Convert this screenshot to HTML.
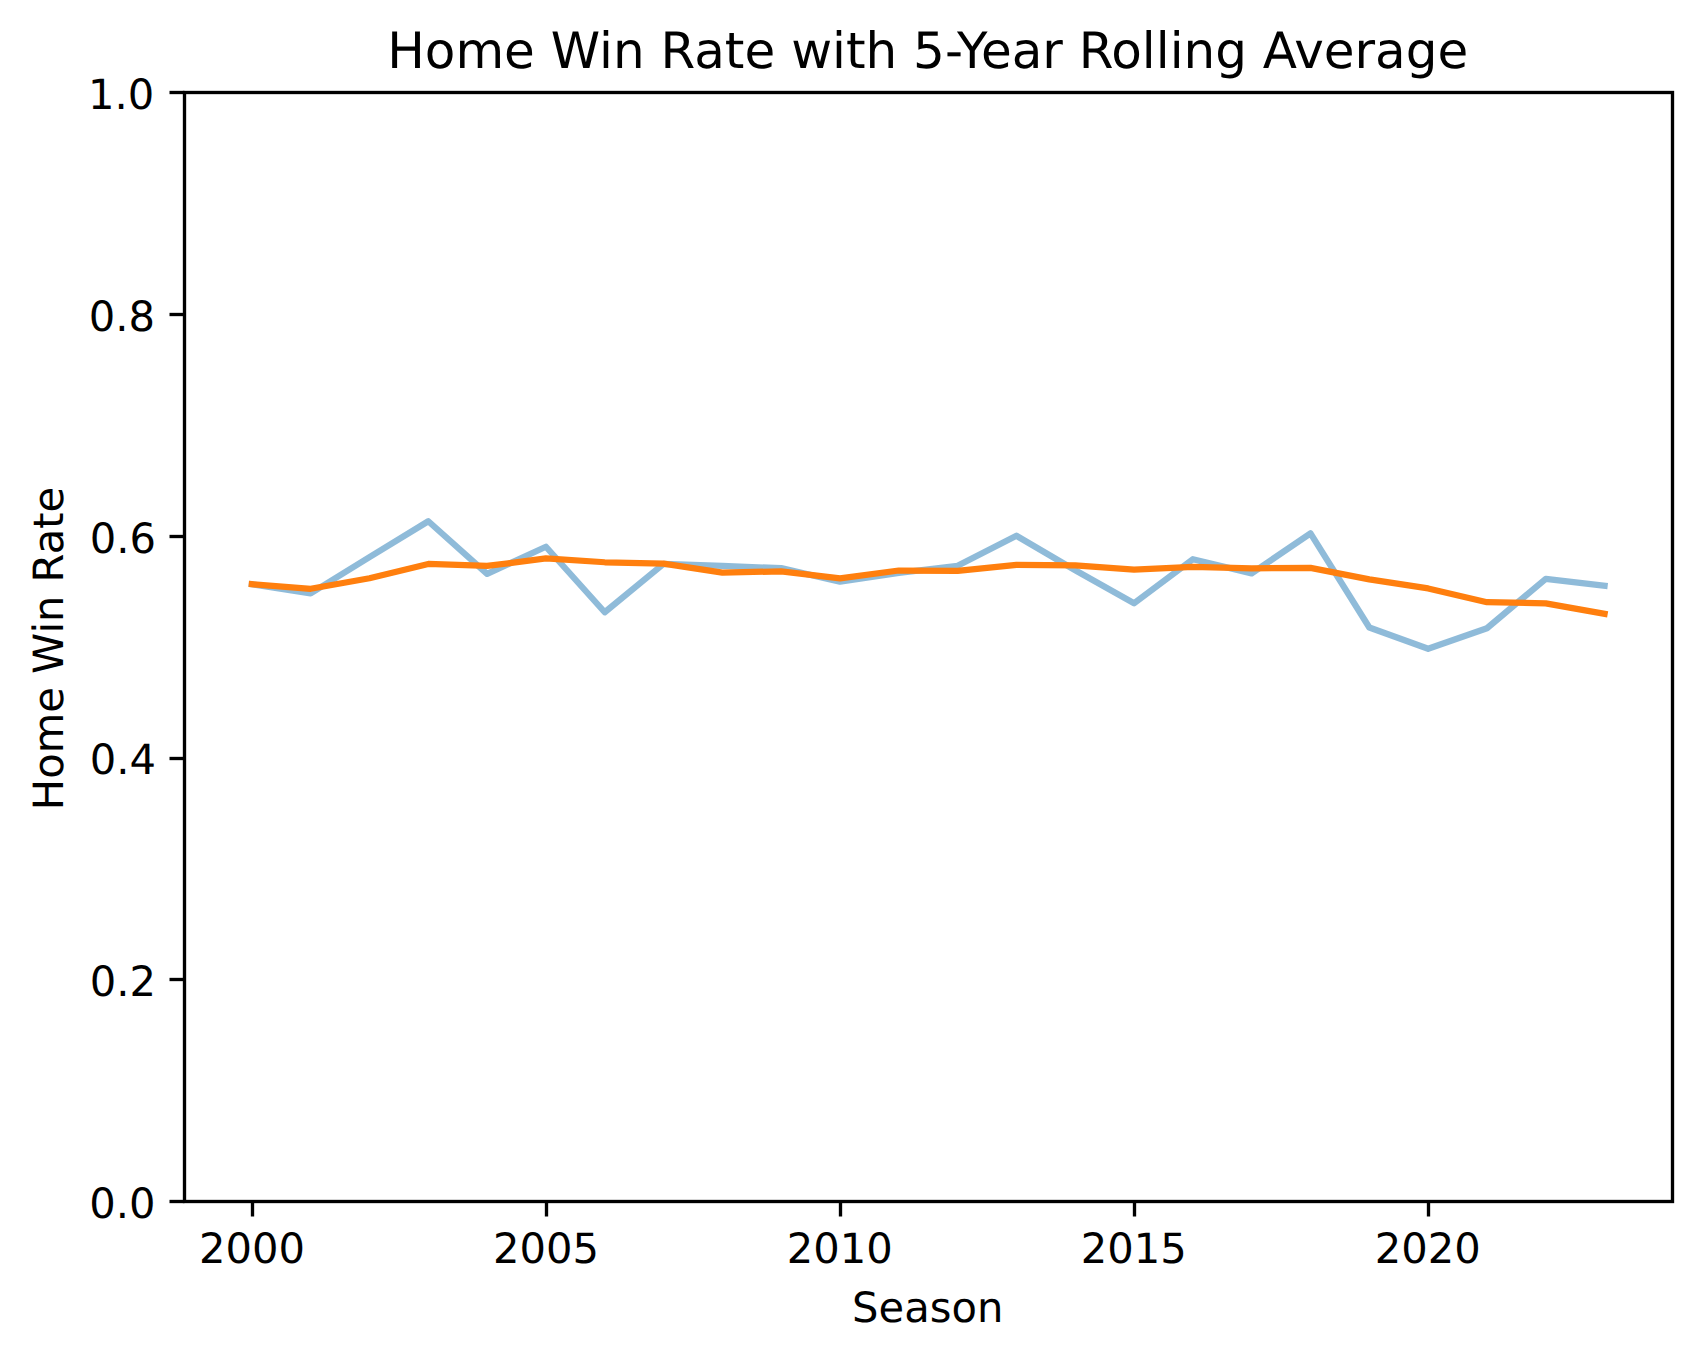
<!DOCTYPE html>
<html lang="en">
<head>
<meta charset="utf-8">
<title>Home Win Rate with 5-Year Rolling Average</title>
<style>
html,body{margin:0;padding:0;background:#ffffff;}
body{width:1702px;height:1361px;overflow:hidden;}
svg{display:block;}
text{text-rendering:geometricPrecision;}
</style>
</head>
<body>
<svg width="1702" height="1361" viewBox="0 0 1702 1361">
<rect x="0" y="0" width="1702" height="1361" fill="#ffffff"/>
<defs><clipPath id="axclip"><rect x="184.208" y="92.367" width="1488.000" height="1108.800"/></clipPath></defs>
<g clip-path="url(#axclip)" fill="none" stroke-linejoin="round" stroke-linecap="square" stroke-width="6.2500">
<path d="M 251.845 584.230 L 310.659 593.323 L 369.473 557.176 L 428.287 521.251 L 487.102 573.808 L 545.916 546.753 L 604.730 612.283 L 663.544 563.939 L 722.359 565.935 L 781.173 568.153 L 839.987 581.680 L 898.801 572.921 L 957.615 565.824 L 1016.430 535.776 L 1075.244 570.259 L 1134.058 603.302 L 1192.872 559.171 L 1251.687 573.364 L 1310.501 533.336 L 1369.315 627.474 L 1428.129 648.763 L 1486.944 628.250 L 1545.758 578.797 L 1604.572 585.672" stroke="#1f77b4" stroke-opacity="0.5"/>
<path d="M 251.845 584.230 L 310.659 588.776 L 369.473 578.243 L 428.287 563.995 L 487.102 565.957 L 545.916 558.462 L 604.730 562.254 L 663.544 563.607 L 722.359 572.544 L 781.173 571.413 L 839.987 578.398 L 898.801 570.526 L 957.615 570.903 L 1016.430 564.871 L 1075.244 565.292 L 1134.058 569.616 L 1192.872 566.867 L 1251.687 568.375 L 1310.501 567.887 L 1369.315 579.329 L 1428.129 588.422 L 1486.944 602.237 L 1545.758 603.324 L 1604.572 613.791" stroke="#ff7f0e"/>
</g>
<g stroke="#000000" stroke-width="3.3333" fill="none" stroke-linecap="butt">
<line x1="252.50" y1="1201.50" x2="252.50" y2="1216.50"/>
<line x1="546.50" y1="1201.50" x2="546.50" y2="1216.50"/>
<line x1="840.50" y1="1201.50" x2="840.50" y2="1216.50"/>
<line x1="1134.50" y1="1201.50" x2="1134.50" y2="1216.50"/>
<line x1="1428.50" y1="1201.50" x2="1428.50" y2="1216.50"/>
<line x1="184.50" y1="1201.50" x2="169.50" y2="1201.50"/>
<line x1="184.50" y1="979.50" x2="169.50" y2="979.50"/>
<line x1="184.50" y1="758.50" x2="169.50" y2="758.50"/>
<line x1="184.50" y1="536.50" x2="169.50" y2="536.50"/>
<line x1="184.50" y1="314.50" x2="169.50" y2="314.50"/>
<line x1="184.50" y1="92.50" x2="169.50" y2="92.50"/>
</g>
<rect x="184.50" y="92.50" width="1488.00" height="1109.00" fill="none" stroke="#000000" stroke-width="3.3333" stroke-linejoin="miter"/>
<g font-family="'DejaVu Sans', 'Liberation Sans', sans-serif" font-size="41.6667px" fill="#000000">
<text x="252.09" y="1263.00" text-anchor="middle">2000</text>
<text x="545.92" y="1263.00" text-anchor="middle">2005</text>
<text x="839.74" y="1263.00" text-anchor="middle">2010</text>
<text x="1133.81" y="1263.00" text-anchor="middle">2015</text>
<text x="1427.88" y="1263.00" text-anchor="middle">2020</text>
<text x="155.54" y="1218.00" text-anchor="end">0.0</text>
<text x="156.04" y="996.00" text-anchor="end">0.2</text>
<text x="156.04" y="774.00" text-anchor="end">0.4</text>
<text x="156.04" y="553.00" text-anchor="end">0.6</text>
<text x="155.04" y="331.00" text-anchor="end">0.8</text>
<text x="154.29" y="109.00" text-anchor="end">1.0</text>
<text x="927.71" y="1322.00" text-anchor="middle">Season</text>
<text x="63.00" y="648.52" text-anchor="middle" transform="rotate(-90 63.00 648.52)">Home Win Rate</text>
<text x="927.71" y="68.00" text-anchor="middle" font-size="50.0000px">Home Win Rate with 5-Year Rolling Average</text>
</g>
</svg>
</body>
</html>
